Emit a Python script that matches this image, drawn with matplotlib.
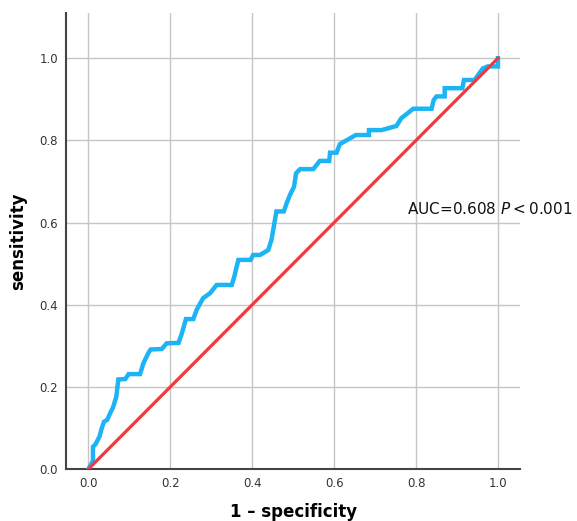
import matplotlib
matplotlib.use("Agg")
import matplotlib.pyplot as plt

# ROC curve vertices (1 - specificity, sensitivity)
fpr = [0.000, 0.011, 0.011, 0.017, 0.027, 0.032, 0.038, 0.046, 0.053, 0.060,
       0.068, 0.073, 0.090, 0.098, 0.126, 0.134, 0.146, 0.152, 0.179, 0.191,
       0.220, 0.228, 0.238, 0.256, 0.264, 0.280, 0.297, 0.313, 0.350, 0.356,
       0.366, 0.396, 0.402, 0.419, 0.439, 0.447, 0.459, 0.477, 0.484, 0.492,
       0.502, 0.507, 0.517, 0.549, 0.557, 0.565, 0.588, 0.590, 0.606, 0.614,
       0.653, 0.685, 0.685, 0.716, 0.752, 0.764, 0.777, 0.793, 0.838, 0.843,
       0.850, 0.870, 0.870, 0.913, 0.917, 0.943, 0.963, 0.975, 1.000, 1.000]
tpr = [0.000, 0.020, 0.054, 0.060, 0.079, 0.098, 0.115, 0.120, 0.136, 0.150,
       0.176, 0.218, 0.219, 0.231, 0.231, 0.257, 0.282, 0.291, 0.292, 0.306,
       0.307, 0.330, 0.365, 0.365, 0.387, 0.416, 0.428, 0.448, 0.448, 0.468,
       0.509, 0.509, 0.521, 0.521, 0.533, 0.558, 0.627, 0.627, 0.647, 0.667,
       0.687, 0.720, 0.730, 0.730, 0.740, 0.750, 0.750, 0.770, 0.770, 0.791,
       0.813, 0.813, 0.825, 0.825, 0.835, 0.854, 0.864, 0.877, 0.877, 0.898,
       0.907, 0.907, 0.927, 0.927, 0.947, 0.947, 0.975, 0.980, 0.980, 1.000]
ref_line = [0.0, 1.0]
ticks = [0.0, 0.2, 0.4, 0.6, 0.8, 1.0]

fig = plt.figure(figsize=(5.77, 5.21), dpi=100)
ax = fig.add_axes([0.115, 0.0998, 0.787, 0.876])

ax.plot(fpr, tpr, color="#1CB4F4", linewidth=3.2, solid_joinstyle="miter", zorder=3)
ax.plot(ref_line, ref_line, color="#F2393E", linewidth=2.3, zorder=4)

ax.set_xlim(-0.054, 1.055)
ax.set_ylim(0, 1.111)
ax.set_xticks(ticks)
ax.set_yticks(ticks)
ax.set_xticklabels([f"{t:.1f}" for t in ticks])
ax.set_yticklabels([f"{t:.1f}" for t in ticks])
ax.tick_params(length=0, labelsize=8.5, labelcolor="#333333", pad=6)
ax.grid(True, color="#C6C6C6", linewidth=1.0)
ax.set_axisbelow(True)

for side in ["top", "right"]:
    ax.spines[side].set_visible(False)
for side in ["left", "bottom"]:
    ax.spines[side].set_color("#444444")
    ax.spines[side].set_linewidth(1.5)

ax.set_xlabel("1 \u2013 specificity", fontsize=12, fontweight="bold", labelpad=9)
ax.set_ylabel("sensitivity", fontsize=12, fontweight="bold", labelpad=9)

ax.text(0.779, 0.634, "AUC=0.608 $\\it{P}$$<$0.001", fontsize=11, va="center",
        ha="left", clip_on=False, color="#111111")

fig.savefig("out.png", dpi=100)
